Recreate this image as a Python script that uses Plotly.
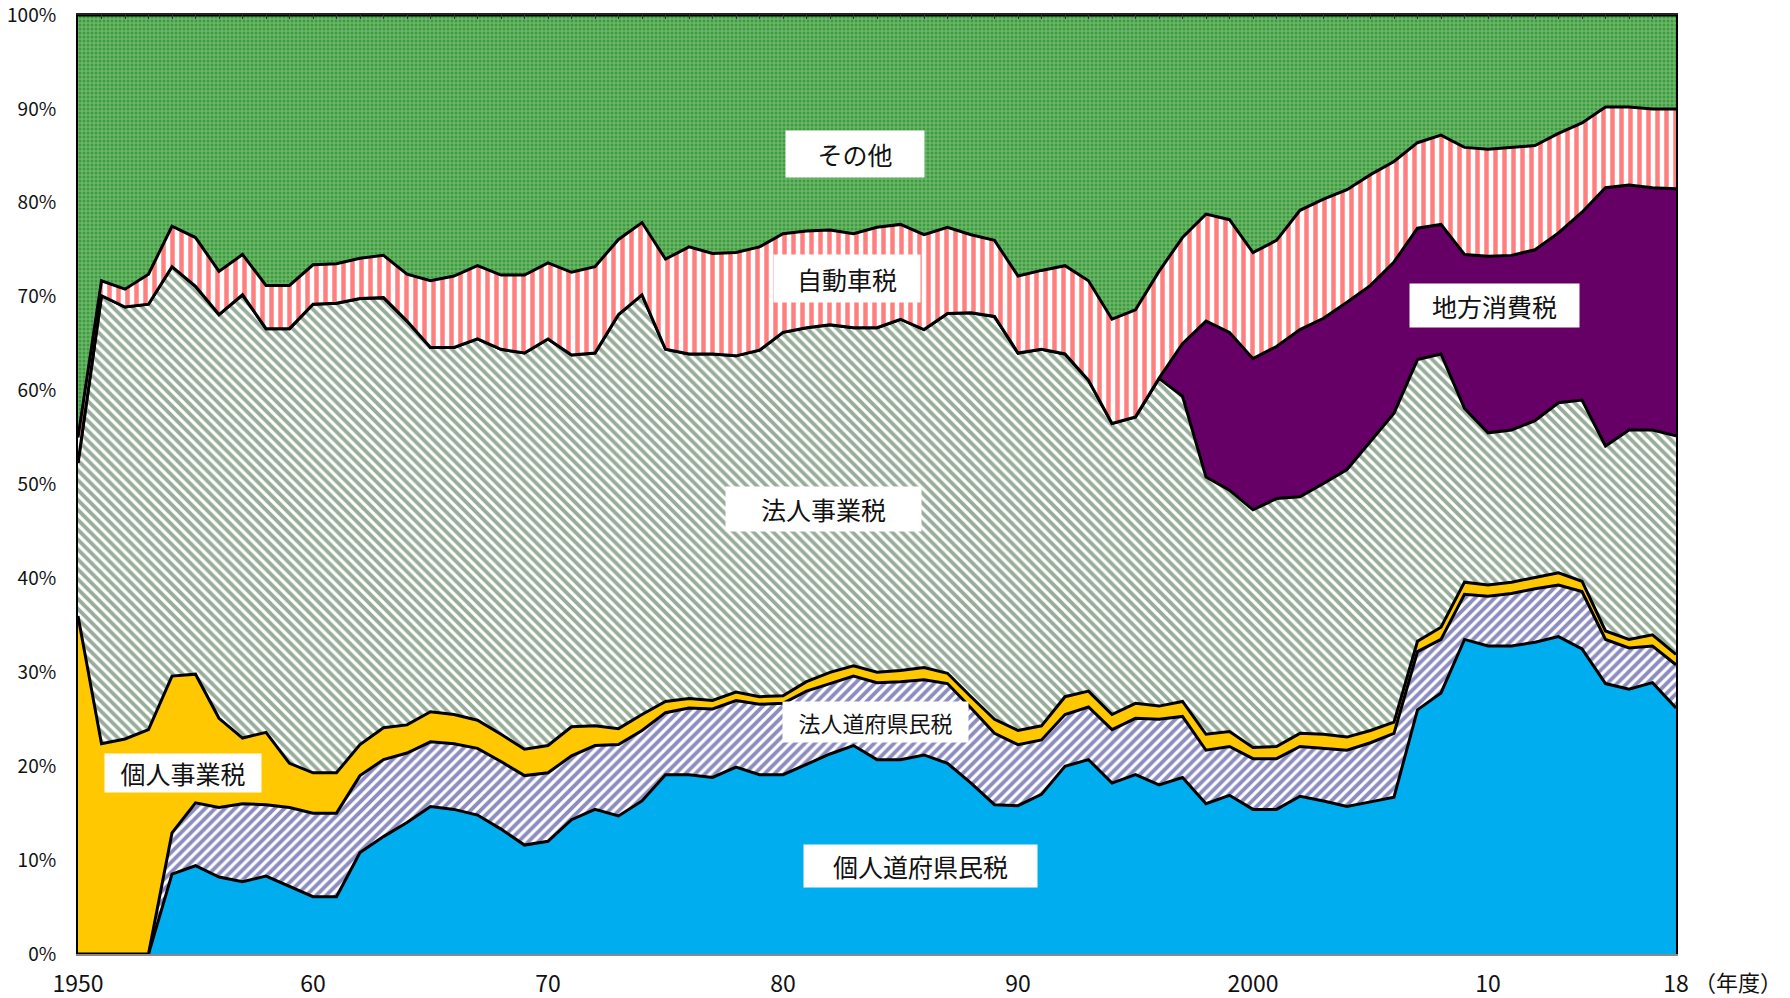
import plotly.graph_objects as go

years = list(range(1950, 2019))

# shares (%) of each tax in prefectural tax revenue
kojin_jumin = [0, 0, 0, 0, 8.5, 9.4, 8.2, 7.7, 8.3, 7.2,
               6.1, 6.1, 10.8, 12.5, 14.0, 15.7, 15.4, 14.8, 13.3, 11.6,
               12.0, 14.3, 15.4, 14.7, 16.3, 19.1, 19.1, 18.8, 19.9, 19.1,
               19.1, 20.2, 21.3, 22.2, 20.7, 20.7, 21.2, 20.3, 18.2, 15.9,
               15.8, 17.0, 20.0, 20.7, 18.2, 19.1, 18.0, 18.8, 16.0, 16.9,
               15.4, 15.4, 16.8, 16.3, 15.7, 16.2, 16.7, 26.0, 27.8, 33.5,
               32.8, 32.8, 33.2, 33.8, 32.5, 28.8, 28.2, 28.9, 26.2]
hojin_jumin = [0, 0, 0, 0, 4.4, 6.7, 7.4, 8.3, 7.6, 8.4,
               8.9, 8.9, 8.2, 8.2, 7.4, 6.9, 7.0, 7.1, 7.2, 7.4,
               7.3, 6.8, 6.8, 7.6, 7.5, 6.6, 7.1, 7.3, 7.1, 7.5,
               7.6, 7.8, 7.5, 7.4, 8.2, 8.3, 8.0, 8.5, 8.0, 7.6,
               6.5, 5.8, 5.5, 5.6, 5.7, 6.0, 7.0, 6.5, 5.7, 5.2,
               5.4, 5.4, 5.3, 5.6, 6.0, 6.3, 6.8, 6.2, 5.7, 4.8,
               5.3, 5.6, 5.7, 5.5, 6.1, 4.7, 4.4, 3.9, 4.6]
kojin_jigyo = [36.0, 22.4, 22.9, 23.9, 16.7, 13.7, 9.5, 7.0, 7.7, 4.7,
               4.3, 4.3, 3.3, 3.4, 3.0, 3.2, 3.1, 3.0, 2.9, 2.8,
               2.9, 3.1, 2.1, 1.7, 1.7, 1.2, 1.0, 0.9, 0.9, 0.8,
               0.8, 1.0, 1.2, 1.1, 1.1, 1.2, 1.3, 1.1, 1.2, 1.5,
               1.5, 1.5, 1.9, 1.7, 1.6, 1.6, 1.4, 1.6, 1.7, 1.6,
               1.2, 1.3, 1.4, 1.5, 1.4, 1.3, 1.2, 1.1, 1.3, 1.3,
               1.2, 1.2, 1.2, 1.3, 1.1, 0.9, 0.9, 1.2, 1.1]
hojin_jigyo = [16.3, 47.7, 46.0, 45.3, 43.6, 41.3, 43.0, 47.2, 43.0, 46.3,
               49.9, 50.0, 47.5, 45.8, 43.0, 38.8, 39.1, 40.6, 41.0, 42.2,
               43.3, 39.6, 39.7, 44.1, 44.7, 37.5, 36.7, 36.9, 35.8, 36.9,
               38.7, 37.7, 37.0, 36.0, 36.7, 37.4, 36.0, 38.3, 40.9, 42.9,
               40.2, 40.1, 36.5, 33.1, 31.0, 30.5, 34.9, 32.5, 27.4, 25.7,
               25.3, 26.4, 25.2, 26.7, 28.5, 30.8, 32.9, 30.0, 29.1, 18.5,
               16.2, 16.2, 16.7, 18.1, 19.3, 19.7, 22.3, 21.8, 23.3]
chiho_shohi = [0, 0, 0, 0, 0, 0, 0, 0, 0, 0,
               0, 0, 0, 0, 0, 0, 0, 0, 0, 0,
               0, 0, 0, 0, 0, 0, 0, 0, 0, 0,
               0, 0, 0, 0, 0, 0, 0, 0, 0, 0,
               0, 0, 0, 0, 0, 0, 0, 5.6, 16.6, 16.8,
               16.1, 16.2, 17.8, 17.6, 17.8, 16.6, 16.1, 14.0, 13.8, 16.4,
               18.8, 18.6, 18.2, 18.1, 20.0, 27.5, 26.1, 25.8, 26.3]
jidosha = [2.7, 1.6, 1.9, 3.2, 4.3, 5.2, 4.6, 4.3, 4.6, 4.6,
           4.2, 4.2, 4.3, 4.5, 5.0, 7.1, 7.6, 7.8, 7.9, 8.3,
           8.1, 8.8, 9.2, 8.0, 7.7, 9.6, 11.4, 10.7, 11.0, 11.0,
           10.5, 10.3, 10.1, 10.0, 10.7, 10.1, 10.1, 9.2, 8.3, 8.1,
           8.2, 8.4, 9.4, 10.6, 11.1, 11.4, 11.4, 11.3, 11.4, 12.0,
           11.3, 11.3, 12.7, 12.7, 12.0, 11.8, 10.7, 9.1, 9.5, 11.4,
           11.4, 11.5, 11.1, 10.6, 9.5, 8.6, 8.3, 8.4, 8.5]
sonota = [45.0, 28.3, 29.2, 27.6, 22.5, 23.7, 27.3, 25.5, 28.8, 28.8,
          26.6, 26.5, 25.9, 25.6, 27.6, 28.3, 27.8, 26.7, 27.7, 27.7,
          26.4, 27.4, 26.8, 23.9, 22.1, 26.0, 24.7, 25.4, 25.3, 24.7,
          23.3, 23.0, 22.9, 23.3, 22.6, 22.3, 23.4, 22.6, 23.4, 24.0,
          27.8, 27.2, 26.7, 28.3, 32.4, 31.4, 27.3, 23.7, 21.2, 21.8,
          25.3, 24.0, 20.8, 19.6, 18.6, 17.0, 15.6, 13.6, 12.8, 14.1,
          14.3, 14.1, 13.9, 12.6, 11.5, 9.8, 9.8, 10.0, 10.0]

tick_years = [1950, 1960, 1970, 1980, 1990, 2000, 2010, 2018]
tick_text = ["1950", "60", "70", "80", "90", "2000", "10", "18"]
y_ticks = list(range(0, 101, 10))
y_text = [f"{v}%" for v in y_ticks]

FONT = "Noto Sans CJK JP"
LINE = dict(color="black", width=3)

series = [
    ("個人道府県民税", kojin_jumin, dict(fillcolor="#00AEEF")),
    ("法人道府県民税", hojin_jumin, dict(fillpattern=dict(shape="/", fgcolor="#1A1A80", bgcolor="white", size=7, solidity=0.55), fillcolor="white")),
    ("個人事業税", kojin_jigyo, dict(fillcolor="#FFC800")),
    ("法人事業税", hojin_jigyo, dict(fillpattern=dict(shape="\\", fgcolor="#2F5C33", bgcolor="white", size=7, solidity=0.55), fillcolor="white")),
    ("地方消費税", chiho_shohi, dict(fillcolor="#660066")),
    ("自動車税", jidosha, dict(fillpattern=dict(shape="|", fgcolor="#FF0000", bgcolor="white", size=9, solidity=0.5), fillcolor="white")),
    ("その他", sonota, dict(fillpattern=dict(shape=".", fgcolor="#0E840E", bgcolor="#6CB66C", size=4, solidity=0.45), fillcolor="#6CB66C")),
]

fig = go.Figure()
for name, vals, style in series:
    fig.add_trace(go.Scatter(
        x=years, y=vals, name=name, mode="lines", line=LINE,
        stackgroup="one", groupnorm="percent" if name == "個人道府県民税" else None,
        hoverinfo="skip", **style))

# empty trace to host the top axis with yearly tick marks
fig.add_trace(go.Scatter(x=years, y=[None] * len(years), xaxis="x2", yaxis="y",
                         showlegend=False, hoverinfo="skip", mode="lines"))

labels = [
    ("その他", 1983.07, 85.2, 138, 46, 25),
    ("自動車税", 1982.73, 71.9, 146, 47, 25),
    ("法人事業税", 1981.72, 47.4, 195, 44, 25),
    ("地方消費税", 2010.27, 69.1, 169, 43, 25),
    ("法人道府県民税", 1983.92, 24.66, 185, 40, 22),
    ("個人道府県民税", 1985.85, 9.39, 233, 42, 25),
    ("個人事業税", 1954.48, 19.28, 156, 38, 25),
]
for text, x, y, w, h, s in labels:
    fig.add_annotation(x=x, y=y, xref="x", yref="y", text=text, showarrow=False,
                       bgcolor="white", width=w, height=h, borderpad=0,
                       font=dict(family=FONT, size=s, color="#111"))

fig.add_annotation(x=2018, y=0, xref="x", yref="y", text="（年度）", showarrow=False,
                   xanchor="left", yanchor="middle", xshift=16, yshift=-27,
                   font=dict(family=FONT, size=22, color="#111"))

fig.update_layout(
    width=1790, height=998, autosize=False,
    margin=dict(l=78, r=114, t=15, b=44, autoexpand=False),
    paper_bgcolor="white", plot_bgcolor="white",
    showlegend=False, hovermode=False,
    font=dict(family=FONT, color="#111"),
    xaxis=dict(range=[1950, 2018], tickvals=tick_years, ticktext=tick_text,
               ticks="", showgrid=False, zeroline=False, automargin=False,
               showline=True, linecolor="#8a8a8a", linewidth=2,
               tickfont=dict(family=FONT, size=23, color="#111"),
               ticklabelstandoff=8, ticklabeloverflow="allow"),
    xaxis2=dict(range=[1950, 2018], overlaying="x", side="top", anchor="y",
                tick0=1950, dtick=1, ticks="inside", ticklen=4, tickwidth=1,
                tickcolor="#333", showticklabels=False, showgrid=False,
                zeroline=False, showline=True, linecolor="#222", linewidth=2,
                automargin=False),
    yaxis=dict(range=[0, 100], tickvals=y_ticks, ticktext=y_text, ticks="",
               showgrid=False, zeroline=False, showline=True, mirror=True,
               linecolor="black", linewidth=2, automargin=False,
               tickfont=dict(family=FONT, size=19, color="#111"),
               ticklabelstandoff=16, ticklabeloverflow="allow"),
)

# remove the default page margin so the figure fills the 1790x998 window exactly
fig.write_html("out.html", config={"displayModeBar": False},
               post_script="document.body.style.margin='0';")
